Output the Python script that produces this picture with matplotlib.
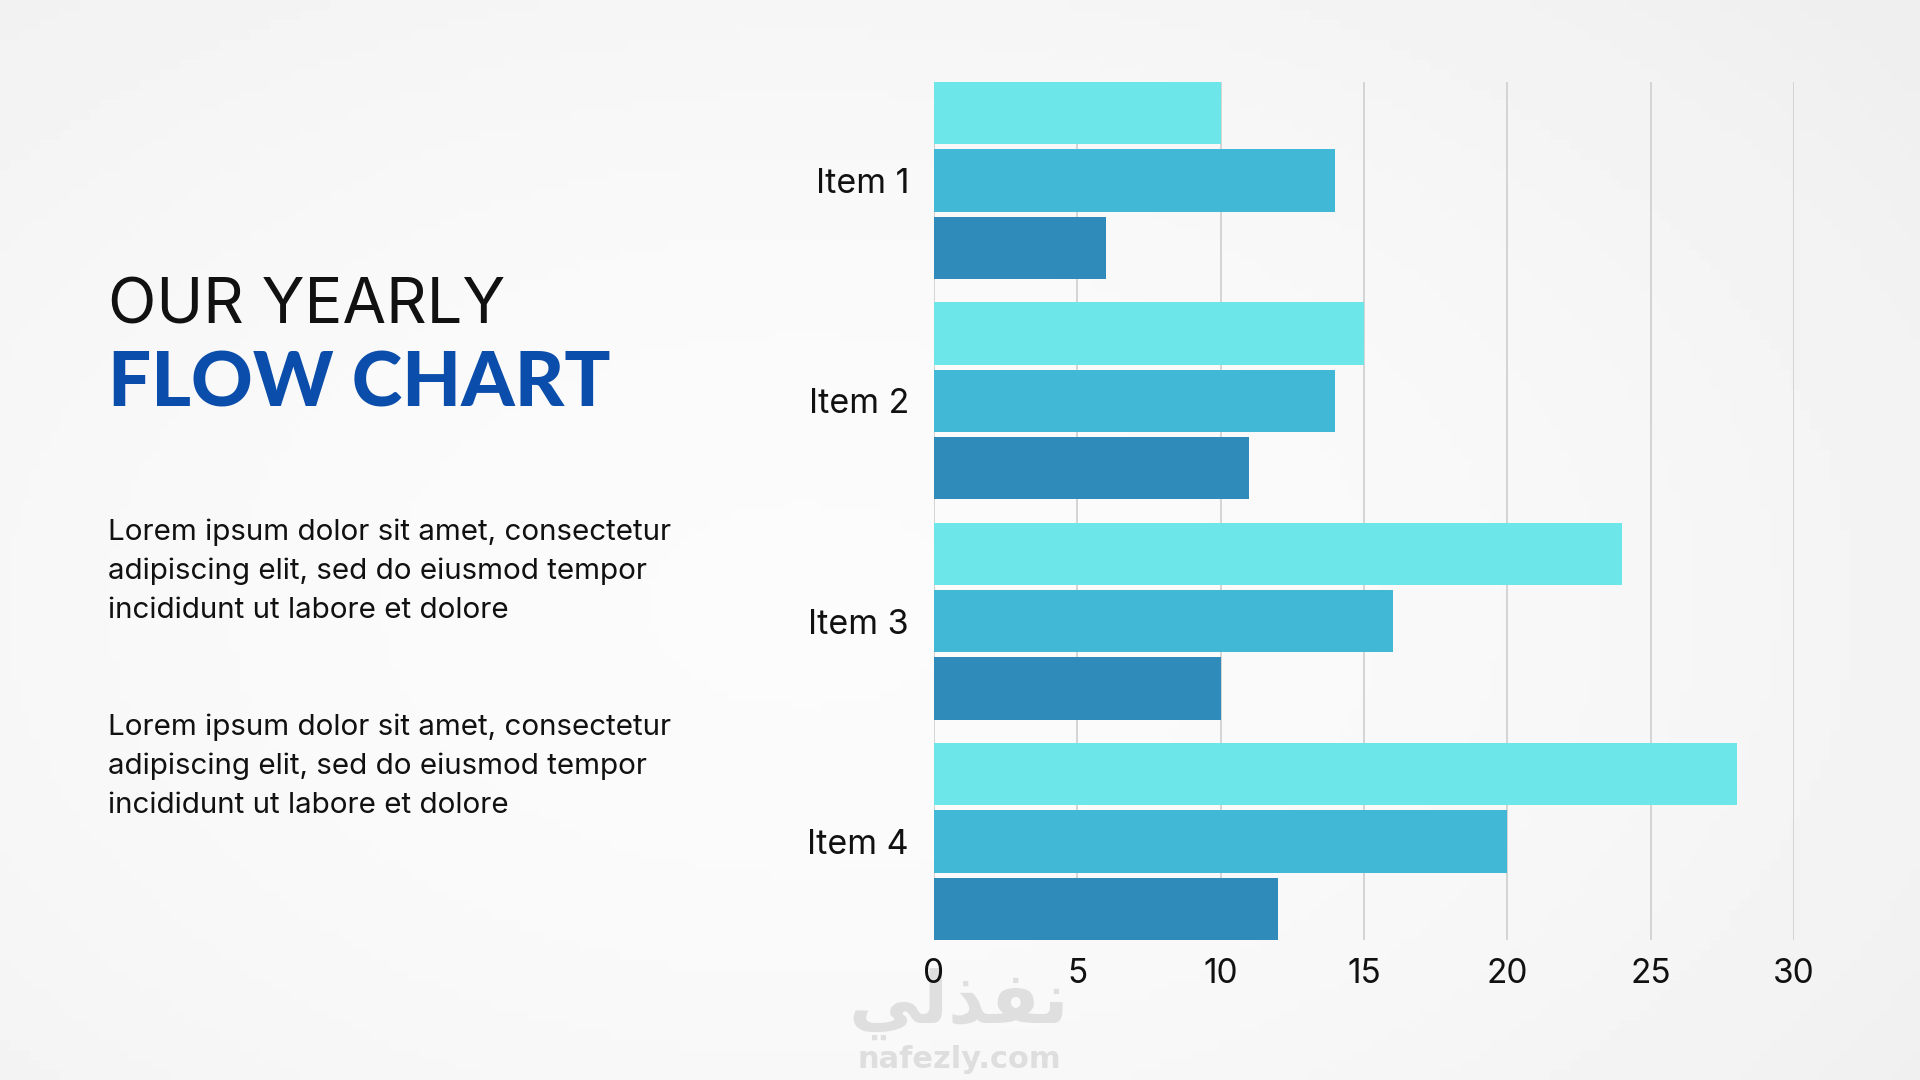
import matplotlib.pyplot as plt
import numpy as np

# Data
items = ['Item 1', 'Item 2', 'Item 3', 'Item 4']
series_a = [10, 15, 24, 28]   # light cyan (top bar)
series_b = [14, 14, 16, 20]   # mid blue
series_c = [6, 11, 10, 12]    # dark blue (bottom bar)
x_ticks = [0, 5, 10, 15, 20, 25, 30]

colors = ['#6CE6E8', '#41B8D5', '#2E8BBA']

W, H = 1920, 1080


def fx(px):
    return px / W


def fy(py):
    return 1 - py / H


fig = plt.figure(figsize=(19.2, 10.8), dpi=100)
fig.patch.set_facecolor('#f6f6f6')

# soft background glow
bg = fig.add_axes([0, 0, 1, 1], zorder=-10)
yy, xx = np.mgrid[0:108, 0:192]
r = np.sqrt(((xx - 80) / 140) ** 2 + ((yy - 60) / 90) ** 2)
glow = 0.985 - 0.05 * np.clip(r, 0, 1) ** 2
bg.imshow(glow, cmap='gray', vmin=0, vmax=1, aspect='auto', extent=[0, 1, 0, 1])
bg.axis('off')

# Bars
ax = fig.add_axes([fx(934), fy(940), fx(860), 858 / H])
ax.patch.set_alpha(0)

y = np.arange(len(items))
step = 0.306
bh = 0.283
ax.barh(y - step, series_a, height=bh, color=colors[0], zorder=3)
ax.barh(y, series_b, height=bh, color=colors[1], zorder=3)
ax.barh(y + step, series_c, height=bh, color=colors[2], zorder=3)

ax.set_xlim(0, 30)
ax.set_ylim(3.447, -0.447)
ax.set_xticks(x_ticks)
ax.set_xticklabels([str(t) for t in x_ticks])
ax.set_yticks(y)
ax.set_yticklabels(items)
ax.xaxis.grid(True, color='#d4d4d4', linewidth=1.4, zorder=0)
ax.set_axisbelow(True)
for s in ax.spines.values():
    s.set_visible(False)
ax.tick_params(axis='x', length=0, pad=13, labelsize=24, labelcolor='#111111')
ax.tick_params(axis='y', length=0, pad=18, labelsize=24.5, labelcolor='#111111')
for lab in ax.get_xticklabels() + ax.get_yticklabels():
    lab.set_fontfamily('Inter')

# Title
fig.text(fx(108), fy(323), 'OUR YEARLY', fontsize=45.5, family='Inter',
         color='#111111', va='baseline', ha='left')
fig.text(fx(108), fy(406), 'FLOW CHART', fontsize=55, family='Lato',
         fontweight='black', color='#0B4DAA', va='baseline', ha='left')

# Paragraphs
para = ['Lorem ipsum dolor sit amet, consectetur',
        'adipiscing elit, sed do eiusmod tempor',
        'incididunt ut labore et dolore']
for base in (540, 735):
    for i, line in enumerate(para):
        fig.text(fx(108), fy(base + 39 * i), line, fontsize=21.3, family='Inter',
                 color='#111111', va='baseline', ha='left')

# Watermark
fig.text(fx(959), fy(1004), '\uFEF2\uFEDF\uFEAC\uFED4\uFEE7', fontsize=52,
         family='DejaVu Sans', fontweight='bold', color='#d9d9d9', alpha=0.8,
         ha='center', va='center', zorder=-1)
fig.text(fx(959), fy(1060), 'nafezly.com', fontsize=22, family='DejaVu Sans',
         fontweight='bold', color='#dedede', ha='center', va='center', zorder=-1)

plt.savefig('out.png', dpi=100, facecolor=fig.get_facecolor())
